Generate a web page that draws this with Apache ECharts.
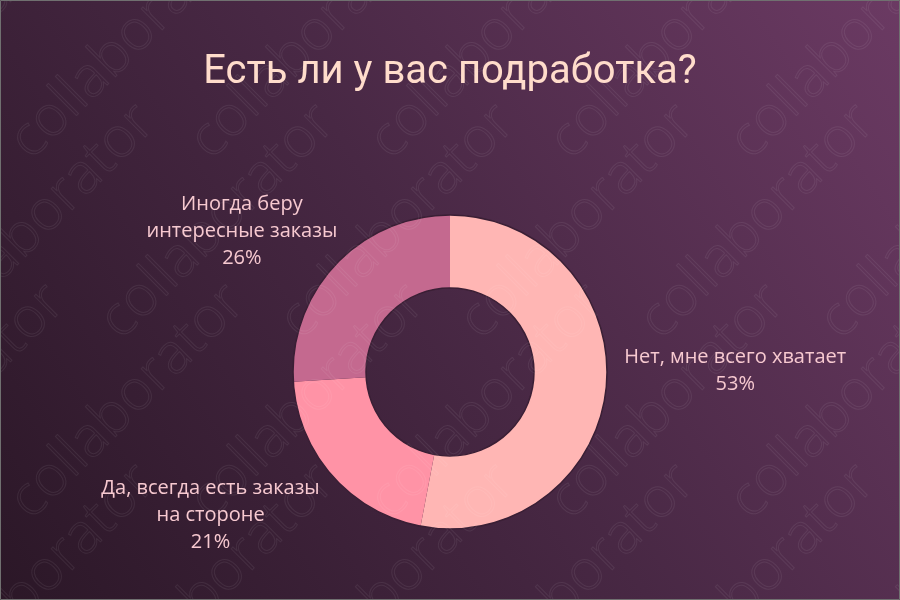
<!DOCTYPE html>
<html><head><meta charset="utf-8">
<script src="https://cdn.jsdelivr.net/npm/echarts@6/dist/echarts.min.js"></script>
<style>html,body{margin:0;padding:0;background:#2e1a2b}#c{width:900px;height:600px}</style>
</head><body><div id="c"></div>
<script>
const titleText = 'Есть ли у вас подработка?';
const categories = ['Нет, мне всего хватает', 'Да, всегда есть заказы\nна стороне', 'Иногда беру\nинтересные заказы'];
const values = [53, 21, 26];
const colors = ['#ffb6b4', '#ff93a6', '#c4698f'];

// label nudges relative to ECharts' own outside-label placement (layout, not data)
const labelNudge = [[3, -17], [0, 33], [14, -26]];

const chart = echarts.init(document.getElementById('c'), null, {renderer: 'canvas'});

const wm = [];
for (let i = -3; i < 8; i++) {
  for (let j = -1; j < 5; j++) {
    wm.push({
      type: 'text', silent: true, z: 100,
      x: i * 180 + j * 90, y: j * 180 + 130,
      rotation: Math.PI / 4,
      style: {text: 'collaborator', font: '300 56px "Open Sans"', fill: 'none', stroke: 'rgba(255,255,255,0.07)', lineWidth: 1}
    });
  }
}
wm.push({type: 'rect', silent: true, z: 101, shape: {x: 0.5, y: 0.5, width: 899, height: 599}, style: {fill: 'none', stroke: '#707070', lineWidth: 1}});

chart.setOption({
  backgroundColor: new echarts.graphic.LinearGradient(0, 1, 1, 0, [
    {offset: 0, color: '#2b1727'},
    {offset: 0.5, color: '#482844'},
    {offset: 1, color: '#6b3a63'}
  ]),
  title: {
    text: titleText, left: 'center', top: 48,
    textStyle: {color: '#ffdccb', fontSize: 40, fontWeight: 'normal', fontFamily: 'Roboto'}
  },
  graphic: wm,
  series: [{
    type: 'pie',
    center: [450, 372],
    radius: [84, 157],
    startAngle: 90,
    clockwise: true,
    avoidLabelOverlap: false,
    data: categories.map((c, i) => ({name: c, value: values[i], itemStyle: {color: colors[i]}})),
    itemStyle: {borderWidth: 0},
    label: {
      show: true, position: 'outside',
      formatter: p => p.name + '\n' + p.value + '%',
      color: '#f7c9d0', fontSize: 20, fontFamily: 'Open Sans', lineHeight: 27
    },
    labelLine: {show: false, length: 10, length2: 0},
    labelLayout: function (params) {
      const r = params.labelRect;
      const n = labelNudge[params.dataIndex];
      return {x: r.x + r.width / 2 + n[0], y: r.y + r.height / 2 + n[1], align: 'center', verticalAlign: 'middle'};
    },
    emphasis: {disabled: true}
  }, {
    type: 'pie',
    center: [450, 372],
    radius: [84, 157],
    silent: true,
    z: 3,
    label: {show: false},
    labelLine: {show: false},
    data: [{value: 1, itemStyle: {color: 'rgba(0,0,0,0)', borderColor: '#3a1f35', borderWidth: 1.5}}],
    emphasis: {disabled: true}
  }]
});
</script></body></html>
